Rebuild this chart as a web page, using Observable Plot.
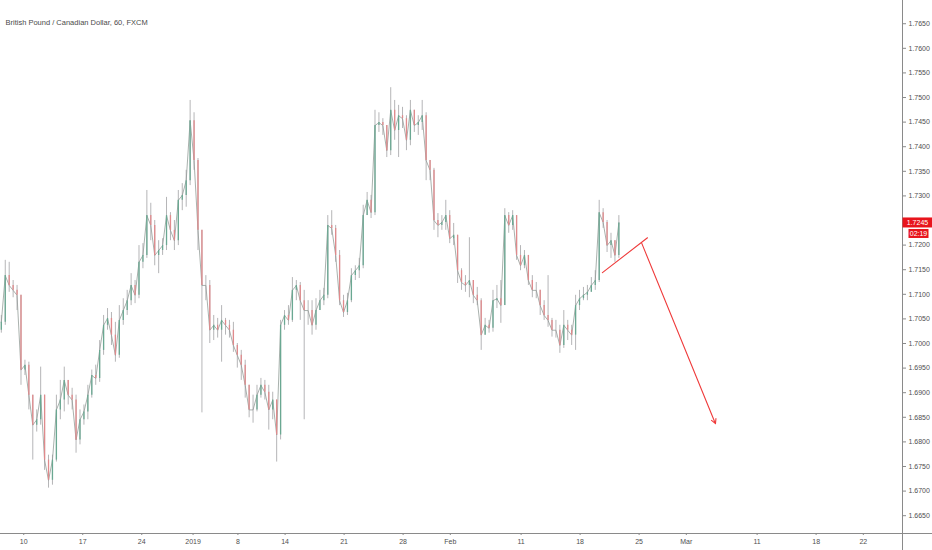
<!DOCTYPE html>
<html>
<head>
<meta charset="utf-8">
<script src="https://cdn.jsdelivr.net/npm/d3@7"></script>
<script src="https://cdn.jsdelivr.net/npm/@observablehq/plot@0.6"></script>
<style>
  html, body { margin: 0; padding: 0; background: #ffffff; }
  #chart { width: 932px; height: 550px; }
</style>
</head>
<body>
<div id="chart"></div>
<script>
const title = "British Pound / Canadian Dollar, 60, FXCM";
const firstOpen = 1.7027;
const closes = [
  1.7043,1.7138,1.7118,1.7108,1.7098,1.6946,1.6956,1.6895,1.6834,1.6845,
  1.6895,1.6763,1.6722,1.6763,1.6865,1.6885,1.6925,1.6895,1.6885,1.6804,
  1.6845,1.6861,1.6895,1.6935,1.6929,1.6986,1.7037,1.7051,1.7017,1.6976,
  1.7047,1.7067,1.7087,1.7118,1.7098,1.7165,1.7179,1.7260,1.7240,1.7179,
  1.7189,1.7199,1.7260,1.7230,1.7209,1.7291,1.7301,1.7331,1.7453,1.7372,
  1.7230,1.7118,1.7118,1.7027,1.7037,1.7027,1.7047,1.7037,1.7027,1.6996,
  1.6976,1.6956,1.6915,1.6865,1.6865,1.6895,1.6915,1.6901,1.6865,1.6885,
  1.6814,1.7037,1.7057,1.7047,1.7108,1.7118,1.7087,1.7067,1.7067,1.7037,
  1.7067,1.7087,1.7098,1.7240,1.7234,1.7179,1.7087,1.7063,1.7087,1.7138,
  1.7148,1.7158,1.7260,1.7291,1.7266,1.7443,1.7449,1.7443,1.7392,1.7474,
  1.7433,1.7463,1.7457,1.7413,1.7474,1.7443,1.7449,1.7463,1.7372,1.7352,
  1.7250,1.7240,1.7246,1.7260,1.7213,1.7220,1.7148,1.7124,1.7118,1.7128,
  1.7098,1.7087,1.7017,1.7037,1.7031,1.7087,1.7091,1.7077,1.7260,1.7240,
  1.7260,1.7179,1.7158,1.7179,1.7128,1.7108,1.7108,1.7077,1.7057,1.7047,
  1.7027,1.7027,1.6996,1.7037,1.7027,1.7017,1.7077,1.7091,1.7098,1.7104,
  1.7118,1.7128,1.7266,1.7246,1.7199,1.7209,1.7179,1.7245
];
const highs = [
  1.7057,1.7169,1.7165,1.7128,1.7118,1.7098,1.6966,1.6962,1.6885,1.6865,
  1.6952,1.6895,1.6773,1.6773,1.6895,1.6925,1.6952,1.6925,1.6909,1.6895,
  1.6865,1.6875,1.6915,1.6946,1.6956,1.7006,1.7057,1.7071,1.7063,1.7043,
  1.7077,1.7091,1.7108,1.7142,1.7128,1.7199,1.7203,1.7311,1.7285,1.7250,
  1.7209,1.7213,1.7297,1.7266,1.7250,1.7311,1.7325,1.7352,1.7494,1.7469,
  1.7376,1.7230,1.7138,1.7128,1.7057,1.7051,1.7077,1.7051,1.7047,1.7043,
  1.7000,1.6986,1.6966,1.6915,1.6895,1.6915,1.6929,1.6925,1.6915,1.6901,
  1.6885,1.7047,1.7067,1.7077,1.7134,1.7128,1.7124,1.7108,1.7087,1.7087,
  1.7091,1.7108,1.7112,1.7260,1.7270,1.7240,1.7189,1.7098,1.7102,1.7152,
  1.7158,1.7173,1.7281,1.7307,1.7301,1.7474,1.7469,1.7457,1.7443,1.7520,
  1.7494,1.7484,1.7480,1.7463,1.7494,1.7463,1.7463,1.7494,1.7469,1.7372,
  1.7356,1.7264,1.7260,1.7291,1.7270,1.7244,1.7220,1.7152,1.7138,1.7215,
  1.7128,1.7114,1.7091,1.7051,1.7047,1.7108,1.7118,1.7128,1.7274,1.7266,
  1.7270,1.7260,1.7199,1.7189,1.7179,1.7138,1.7124,1.7108,1.7087,1.7138,
  1.7051,1.7047,1.7037,1.7067,1.7047,1.7037,1.7098,1.7108,1.7114,1.7118,
  1.7134,1.7148,1.7291,1.7274,1.7250,1.7224,1.7199,1.7260
];
const lows = [
  1.7021,1.7037,1.7104,1.7093,1.7067,1.6915,1.6935,1.6865,1.6763,1.6820,
  1.6834,1.6742,1.6706,1.6712,1.6759,1.6845,1.6861,1.6875,1.6865,1.6777,
  1.6794,1.6834,1.6845,1.6889,1.6915,1.6921,1.6976,1.7027,1.6996,1.6962,
  1.6970,1.7037,1.7057,1.7077,1.7081,1.7091,1.7152,1.7173,1.7209,1.7158,
  1.7142,1.7179,1.7189,1.7209,1.7189,1.7199,1.7270,1.7277,1.7321,1.7352,
  1.7189,1.6859,1.7087,1.7000,1.7006,1.7011,1.6962,1.7017,1.7011,1.6982,
  1.6950,1.6925,1.6889,1.6849,1.6838,1.6861,1.6889,1.6885,1.6824,1.6845,
  1.6759,1.6804,1.7027,1.7037,1.7043,1.7087,1.7047,1.6845,1.7037,1.7017,
  1.7027,1.7067,1.7077,1.7091,1.7220,1.7165,1.7077,1.7053,1.7057,1.7083,
  1.7128,1.7132,1.7152,1.7260,1.7254,1.7260,1.7429,1.7423,1.7378,1.7382,
  1.7413,1.7378,1.7437,1.7392,1.7402,1.7429,1.7423,1.7433,1.7331,1.7331,
  1.7230,1.7215,1.7230,1.7230,1.7203,1.7199,1.7122,1.7108,1.7104,1.7093,
  1.7081,1.7077,1.6986,1.7017,1.7021,1.7023,1.7071,1.7041,1.7077,1.7224,
  1.7230,1.7169,1.7148,1.7152,1.7118,1.7093,1.7091,1.7057,1.7047,1.7033,
  1.7013,1.7011,1.6980,1.6990,1.7006,1.6996,1.6986,1.7067,1.7087,1.7087,
  1.7104,1.7108,1.7124,1.7234,1.7185,1.7173,1.7165,1.7173
];
// candle time axis: trading-day index (0 = Mon 10 Dec), three candles per day
const firstBarDay = -1.9;
const barsPerDay = 3;

// x tick positions (trading-day index) and labels
const dayTicks  = [0, 5, 10, 14.35, 18.15, 22.15, 27.15, 32.15, 36.15, 42.15, 47.15, 52.15, 56.15, 62.15, 67.15, 71.15];
const dayLabels = ["10","17","24","2019","8","14","21","28","Feb","11","18","25","Mar","11","18","22"];
// y tick values (1.7250 is hidden under the last-price label in the reference)
const priceTicks = [1.6650,1.6700,1.6750,1.6800,1.6850,1.6900,1.6950,1.7000,1.7050,1.7100,1.7150,1.7200,1.7300,1.7350,1.7400,1.7450,1.7500,1.7550,1.7600,1.7650];
const lastPrice = 1.7245;
const countdown = "02:19";

// drawn annotations (trading-day index, price)
const trendDays   = [49.04, 52.86];
const trendPrices = [1.7144, 1.7215];
const arrowDays   = [52.35, 58.62];
const arrowPrices = [1.7205, 1.6837];

// ---- build ----
const bars = closes.map((c, i) => {
  const o = i === 0 ? firstOpen : closes[i - 1];
  return {
    t: firstBarDay + i / barsPerDay,
    open: o, close: c,
    high: Math.max(highs[i], o, c),
    low: Math.min(lows[i], o, c)
  };
});
const upBars = bars.filter(d => d.close >= d.open);
const downBars = bars.filter(d => d.close < d.open);
const trend = trendDays.map((t, i) => ({t, p: trendPrices[i]}));
const arrow = [{t1: arrowDays[0], p1: arrowPrices[0], t2: arrowDays[1], p2: arrowPrices[1]}];
const labelOf = new Map(dayTicks.map((d, i) => [d, dayLabels[i]]));

const RED = "#ef3b3b";
const AXIS = "#8a8a8a";
const TEXT = "#4f4f4f";
const FONT = "'Liberation Sans', Arial, sans-serif";

const plot = Plot.plot({
  width: 932,
  height: 550,
  marginLeft: 0,
  marginRight: 30,
  marginTop: 0,
  marginBottom: 17,
  x: {domain: [-1.97, 74.47]},
  y: {domain: [1.66138, 1.76972]},
  style: {background: "#ffffff", fontFamily: FONT, overflow: "visible"},
  marks: [
    Plot.line(bars, {x: "t", y: "close", stroke: "#9fa8a4", strokeWidth: 0.9}),
    Plot.ruleX(bars, {x: "t", y1: "low", y2: "high", stroke: "#959598", strokeWidth: 0.7}),
    Plot.ruleX(upBars, {x: "t", y1: "open", y2: "close", stroke: "#6aa892", strokeWidth: 1.3}),
    Plot.ruleX(downBars, {x: "t", y1: "open", y2: "close", stroke: "#e08a8c", strokeWidth: 1.3}),
    Plot.line(trend, {x: "t", y: "p", stroke: RED, strokeWidth: 1.1}),
    Plot.arrow(arrow, {x1: "t1", y1: "p1", x2: "t2", y2: "p2", stroke: RED, strokeWidth: 1.1, headLength: 7, headAngle: 55}),
    Plot.axisY(priceTicks, {anchor: "right", tickSize: 3, tickPadding: 3, tickFormat: d => d.toFixed(4), fontSize: 7, fill: TEXT, stroke: AXIS, label: null}),
    Plot.axisX(dayTicks, {anchor: "bottom", tickSize: 2, tickPadding: 4, tickFormat: d => labelOf.get(d), fontSize: 7, fill: TEXT, stroke: AXIS, label: null}),
    Plot.text([title], {frameAnchor: "top-left", dx: 5, dy: 19, text: d => d, textAnchor: "start", fontSize: 7.5, fill: "#4a4a4a"})
  ]
});

const svg = d3.select(plot);
// axis lines
svg.append("line").attr("x1", 0).attr("x2", 932).attr("y1", 533.5).attr("y2", 533.5).attr("stroke", AXIS).attr("stroke-width", 1);
svg.append("line").attr("x1", 902.5).attr("x2", 902.5).attr("y1", 0).attr("y2", 550).attr("stroke", AXIS).attr("stroke-width", 1);

// last price label
const yLast = plot.scale("y").apply(lastPrice);
const g = svg.append("g").attr("font-family", FONT).attr("text-anchor", "middle");
g.append("rect").attr("x", 902.5).attr("y", yLast - 5).attr("width", 29.5).attr("height", 10).attr("fill", "#e8141c");
g.append("text").attr("x", 917.5).attr("y", yLast).attr("dy", "0.35em").attr("text-anchor", "middle").attr("fill", "#fff").attr("font-size", 7).text(lastPrice.toFixed(4));
g.append("rect").attr("x", 908.5).attr("y", yLast + 6.5).attr("width", 20).attr("height", 9).attr("fill", "#e8141c");
g.append("text").attr("x", 918.5).attr("y", yLast + 11).attr("dy", "0.35em").attr("text-anchor", "middle").attr("fill", "#fff").attr("font-size", 7).text(countdown);

document.getElementById("chart").append(plot);
</script>
</body>
</html>
